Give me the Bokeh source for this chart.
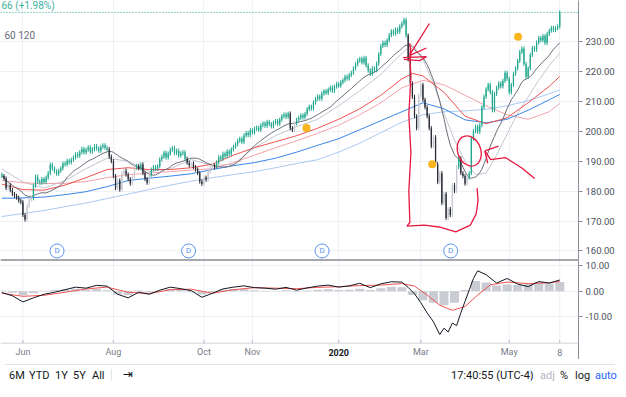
import pandas as pd
from bokeh.plotting import figure
from bokeh.models import (ColumnDataSource, Range1d, FixedTicker, PrintfTickFormatter,
                          Span, Label, Div)
from bokeh.layouts import column
from bokeh.core.properties import value
from bokeh.embed import file_html
from bokeh.resources import INLINE

# ---------------- data (trading-day index, 0 = 3 Jun 2019) ----------------
FIRST_IDX = -10
FIRST_OPEN = 185.5
closes = [
    185.0, 184.2, 181.0, 182.0, 180.3, 179.0, 178.4, 177.8, 176.8, 176.3,
    172.0, 170.5, 175.0, 177.2, 177.6, 181.8, 184.8, 183.2, 182.8, 184.0,
    183.0, 184.5, 186.0, 188.8, 187.5, 186.6, 185.8, 186.8, 187.6, 189.2,
    188.9, 190.1, 189.6, 190.5, 191.2, 192.3, 191.8, 193.0, 194.1, 192.9,
    193.8, 194.6, 193.2, 194.0, 195.0, 194.2, 193.5, 194.8, 195.3, 194.5,
    194.0, 191.5, 190.0, 185.0, 181.0, 183.5, 180.5, 186.0, 186.8, 185.5,
    184.0, 182.5, 184.8, 187.8, 188.4, 187.6, 188.9, 186.0, 184.0, 182.8,
    185.5, 187.2, 188.0, 187.5, 188.3, 190.6, 191.5, 192.8, 191.2, 192.5,
    193.8, 194.4, 192.7, 193.5, 191.9, 192.6, 193.0, 190.8, 189.5, 188.6,
    189.2, 188.0, 187.2, 186.0, 183.2, 182.4, 184.5, 183.8, 186.5, 187.8,
    188.5, 188.0, 189.6, 191.3, 190.8, 192.5, 191.7, 193.2, 192.4, 193.9,
    194.8, 195.6, 196.8, 197.5, 196.4, 198.6, 199.4, 198.7, 200.3, 199.6,
    200.8, 201.2, 200.5, 202.0, 202.6, 201.8, 203.1, 202.4, 201.6, 202.9,
    203.4, 202.5, 203.9, 205.0, 205.6, 204.8, 205.9, 201.0, 200.4, 202.6,
    203.8, 204.5, 205.3, 204.6, 205.8, 207.4, 208.2, 207.6, 209.6, 210.8,
    211.6, 210.9, 212.6, 213.4, 212.8, 213.9, 214.6, 213.5, 214.9, 215.8,
    215.2, 216.4, 217.0, 218.2, 217.6, 218.8, 219.5, 221.0, 222.4, 223.6,
    224.2, 223.0, 224.5, 222.0, 220.3, 219.2, 221.0, 220.4, 222.6, 225.8,
    228.5, 229.6, 228.8, 230.4, 232.1, 233.4, 232.6, 234.0, 233.2, 235.0,
    236.0, 237.2, 232.0, 224.0, 216.0, 211.5, 205.0, 201.0, 212.0, 215.5,
    210.5, 208.0, 205.0, 201.0, 195.0, 198.0, 189.0, 183.0, 186.0, 176.0,
    179.0, 171.0, 174.0, 172.0, 182.0, 180.0, 188.0, 191.0, 186.0, 185.0,
    182.5, 184.5, 186.0, 197.5, 200.0, 201.5, 199.8, 202.0, 208.0, 211.5,
    214.0, 215.5, 213.0, 207.0, 212.5, 214.5, 216.0, 215.0, 216.8, 219.5,
    217.5, 213.0, 215.5, 219.2, 221.0, 223.5, 226.5, 227.6, 222.5, 218.2,
    221.0, 225.5, 227.8, 227.2, 229.6, 231.2, 230.4, 231.8, 229.5, 232.5,
    233.6, 234.5, 233.8, 234.4, 235.0, 239.69,
]
LAST_PRICE = 239.69
header_change = "66 (+1.98%)"
header_ma = "60 120"

tick_idx = [0, 43, 86, 109, 150, 189, 231, 255]
tick_labels = ["Jun", "Aug", "Oct", "Nov", "2020", "Mar", "May", "8"]
tick_styles = ["normal", "normal", "normal", "normal", "bold", "normal", "normal", "normal"]
tick_colors = ["#787b86", "#787b86", "#787b86", "#787b86", "#131722", "#787b86", "#787b86", "#787b86"]
price_ticks = [160, 170, 180, 190, 200, 210, 220, 230]
osc_ticks = [-10, 0, 10]

ma_nodes = [-10, 0, 10, 20, 30, 40, 50, 60, 70, 80, 90, 100, 110, 120, 130,
            140, 150, 160, 170, 180, 190, 200, 210, 220, 230, 240, 250, 255]
red_x = [-10, 0, 10, 20, 30, 40, 50, 60, 70, 80, 90, 100, 110, 120, 130, 140,
         150, 160, 170, 180, 185, 190, 200, 210, 220, 230, 240, 250, 255]
red_y = [182.3, 180.5, 180.3, 182.0, 184.5, 187.2, 187.8, 187.2, 187.2, 187.8,
         189.0, 192.0, 194.5, 196.5, 198.5, 201.0, 204.0, 207.5, 212.0, 217.5,
         219.3, 218.5, 213.0, 205.0, 202.5, 204.5, 209.5, 215.0, 218.3]
pink_y = [183.5, 182.8, 182.5, 182.6, 183.2, 184.5, 185.5, 186.0, 186.5, 187.0,
          187.5, 189.5, 192.0, 194.5, 196.8, 199.3, 202.0, 205.5, 209.5, 214.5,
          217.0, 215.5, 212.0, 208.5, 205.5, 204.0, 206.5, 209.3]
blue_y = [177.6, 177.7, 178.0, 178.8, 179.8, 181.5, 183.5, 184.3, 185.0, 185.8,
          187.2, 188.5, 189.5, 191.0, 193.0, 195.3, 197.5, 200.5, 203.5, 206.5,
          209.5, 207.5, 203.8, 202.8, 204.0, 207.0, 210.5, 212.3]
lblue_y = [171.5, 172.5, 173.5, 174.8, 176.0, 177.5, 179.0, 180.5, 182.0, 183.3,
           184.5, 185.5, 186.5, 187.8, 189.2, 190.5, 193.0, 196.0, 199.5, 203.0,
           205.5, 206.5, 206.8, 207.3, 208.5, 210.2, 212.5, 213.8]
lgray_x = [-10, 0, 10, 20, 30, 40, 50, 60, 70, 80, 90, 100, 110, 120, 130, 140, 150,
           160, 170, 180, 185, 190, 195, 200, 205, 210, 215, 220, 225, 230, 235,
           240, 245, 250, 255]
lgray_y = [187.4, 183.0, 181.0, 183.5, 187.5, 191.0, 190.0, 186.5, 187.5, 190.5,
           188.5, 189.0, 194.5, 198.5, 201.5, 204.0, 208.5, 213.5, 219.0, 226.0,
           229.0, 224.0, 216.0, 206.0, 197.0, 190.0, 185.5, 186.0, 192.0, 199.0,
           206.0, 211.5, 217.0, 222.0, 226.0]

macd_x = [-10, -5, 0, 5, 10, 15, 20, 25, 30, 35, 40, 45, 50, 55, 60, 65, 70, 75,
          80, 85, 90, 95, 100, 105, 110, 115, 120, 125, 130, 135, 140, 145, 150,
          155, 160, 165, 170, 175, 180, 183, 186, 189, 192, 195, 198, 200, 202,
          204, 206, 208, 210, 212, 214, 216, 220, 225, 230, 235, 240, 245, 250, 255]
macd_y = [-0.5, -1.8, -4.2, -2.6, -1.2, -0.4, 0.6, 1.6, 1.2, 2.3, 2.0, -1.2, -2.6,
          -0.4, -1.2, 0.4, 1.6, 1.0, 0.2, -2.4, -0.8, 0.9, 1.6, 2.1, 1.4, 1.2, 0.8,
          1.5, 0.4, 1.3, 2.0, 2.4, 1.6, 2.1, 3.1, 1.4, 2.9, 3.7, 3.6, 1.5, -1.0,
          -4.5, -8.5, -12.0, -17.0, -14.5, -16.0, -12.5, -13.5, -8.5, -4.0, 0.5,
          5.0, 8.0, 6.5, 3.2, 5.0, 2.8, 1.8, 3.8, 3.2, 4.4]
sig_x = [-10, 0, 10, 20, 30, 40, 50, 60, 70, 80, 90, 100, 110, 120, 130, 140, 150,
         160, 170, 180, 186, 192, 198, 204, 210, 216, 222, 230, 240, 250, 255]
sig_y = [-0.8, -2.0, -1.6, -0.4, 0.9, 1.6, -0.4, -0.9, 0.6, 0.8, -0.8, 0.6, 1.4,
         1.2, 1.0, 1.5, 1.8, 2.2, 2.4, 3.0, 2.0, -1.5, -5.5, -7.5, -6.0, -1.5, 2.5,
         3.6, 3.0, 3.3, 3.9]
hist_x = list(range(-10, 256, 5))
hist_y = [0.3, -0.6, -1.6, -0.8, 0.2, 0.5, 0.8, 1.0, 0.6, 0.9,
          0.4, -1.3, -1.6, 0.3, -0.4, 0.2, 0.9, 0.5, -0.4, -1.3,
          -0.3, 0.6, 0.9, 0.9, 0.4, 0.2, 0.1, 0.4, -0.2, 0.3,
          0.6, 0.8, 0.5, 0.6, 1.0, 0.5, 1.2, 1.8, 1.6, -1.5,
          -3.5, -4.5, -5.5, -4.5, 0.5, 4.0, 3.4, 2.2, 2.6, 2.4,
          2.8, 3.4, 3.0, 3.6]

div_idx = [16.2, 78.7, 142.1, 203.2]          # dividend markers
div_price = [160.0, 160.0, 160.0, 160.0]
dot_idx = [134.7, 194.4, 235.2]                # orange markers
dot_price = [201.05, 188.96, 231.6]

# hand drawn annotations (index, price)
enclose_x = [184.3, 183.8, 184.3, 183.3, 184.3, 183.3, 183.8, 182.4, 190.7, 197.7, 205.6, 212.5, 215.3, 216.2, 215.7]
enclose_y = [227.8, 225.5, 218.2, 205.5, 192.8, 180.0, 169.5, 168.3, 168.6, 168.0, 166.4, 168.6, 172.4, 176.9, 181.0]
arrow1_x = [193.1, 184.3]
arrow1_y = [236.0, 226.2]
head1a_x = [183.8, 184.3]
head1a_y = [229.4, 224.6]
head1b_x = [184.3, 191.7]
head1b_y = [225.5, 227.8]
scrib_x = [180.6, 191.7, 188.4, 181.0]
scrib_y = [224.6, 224.9, 223.6, 224.0]
loop_x, loop_y = 212.0, 193.4
arrow2_x = [219.4, 222.2, 229.2, 237.0, 243.1]
arrow2_y = [193.4, 190.5, 191.2, 187.7, 184.2]
head2a_x = [219.4, 225.9]
head2a_y = [193.4, 195.0]
head2b_x = [219.4, 220.8]
head2b_y = [193.4, 189.3]

range_labels = ["6M", "YTD", "1Y", "5Y", "All"]

# ---------------- styling ----------------
GREEN = "#22a88f"
BLACK = "#2a2e39"
LGRAY_C = "#c5c8d0"
GRID = "#eef0f5"
RED_PEN = "#e8173f"
FONT = "Roboto"

idx = list(range(FIRST_IDX, FIRST_IDX + len(closes)))
opens = [FIRST_OPEN] + closes[:-1]
df = pd.DataFrame({"i": idx, "c": closes, "o": opens})
df["top"] = df[["o", "c"]].max(axis=1)
df["bot"] = df[["o", "c"]].min(axis=1)
df["bot_draw"] = df[["bot"]].assign(t=df["top"] - 0.35).min(axis=1)
df["hi"] = df["top"] + 0.7
df["lo"] = df["bot"] - 0.7
df["ma20"] = df["c"].rolling(20, min_periods=1).mean()
cols = []
for c, o, m in zip(df["c"], df["o"], df["ma20"]):
    if c >= m:
        cols.append(GREEN)
    elif c < o:
        cols.append(BLACK)
    else:
        cols.append(LGRAY_C)
df["color"] = cols
src = ColumnDataSource(df)

X0, X1 = -10.65, 263.9
FW = 578

# ---------------- price panel ----------------
p = figure(frame_width=FW, frame_height=259, x_range=Range1d(X0, X1),
           y_range=Range1d(157.14, 243.68), y_axis_location="right",
           x_axis_location=None, output_backend="svg", toolbar_location=None,
           min_border_left=0, min_border_top=0, min_border_bottom=0, min_border_right=0)
p.outline_line_color = None
p.xgrid.ticker = FixedTicker(ticks=tick_idx)
p.ygrid.ticker = FixedTicker(ticks=price_ticks)
p.xgrid.grid_line_color = GRID
p.ygrid.grid_line_color = GRID
ax = p.yaxis[0]
ax.ticker = FixedTicker(ticks=price_ticks)
ax.formatter = PrintfTickFormatter(format="%.2f")
ax.major_tick_in = 0
ax.major_tick_out = 4
ax.minor_tick_line_color = None
ax.axis_line_color = "#8a8e99"
ax.major_tick_line_color = "#8a8e99"
ax.major_label_text_font = FONT
ax.major_label_text_font_size = "9.5px"
ax.major_label_text_color = "#4c525e"
ax.major_label_standoff = 3

p.add_layout(Span(location=LAST_PRICE, dimension="width", line_color=GREEN,
                  line_dash="1 2", line_width=1))

# moving averages
p.line(lgray_x, lgray_y, line_color="#c3c6ce", line_width=1)
p.line(ma_nodes, lblue_y, line_color="#a9c9f2", line_width=1)
p.line(ma_nodes, pink_y, line_color="#f4a3aa", line_width=1)
p.line(ma_nodes, blue_y, line_color="#3a86e8", line_width=1)
p.line(red_x, red_y, line_color="#ef5350", line_width=1)
p.line("i", "ma20", source=src, line_color="#6a6d78", line_width=1)

# candles
p.segment(x0="i", y0="lo", x1="i", y1="hi", source=src, line_color="color", line_width=1)
p.vbar(x="i", top="top", bottom="bot_draw", width=0.6, source=src,
       fill_color="color", line_color=None)

# markers
p.scatter(dot_idx, dot_price, size=8, color="#f9b51e", line_color=None)
p.scatter(div_idx, div_price, size=14, fill_color="white", line_color="#5a93f0", line_width=1)
p.text(div_idx, div_price, text=["D"] * len(div_idx), text_color="#5a93f0",
       text_font=value(FONT), text_font_size="8px", text_align="center", text_baseline="middle")

# hand drawn annotations
for xs, ys in [(enclose_x, enclose_y), (arrow1_x, arrow1_y), (head1a_x, head1a_y),
               (head1b_x, head1b_y), (scrib_x, scrib_y), (arrow2_x, arrow2_y),
               (head2a_x, head2a_y), (head2b_x, head2b_y)]:
    p.line(xs, ys, line_color=RED_PEN, line_width=1.3)
p.ellipse(x=[loop_x], y=[loop_y], width=23, height=31, width_units="screen",
          height_units="screen", angle=0.35, fill_alpha=0, line_color=RED_PEN, line_width=1.3)

# header texts
p.add_layout(Label(x=1, y=242.1, x_units="screen", text=header_change,
                   text_color="#3fb39e", text_font=FONT, text_font_size="10px",
                   text_baseline="middle"))
p.add_layout(Label(x=4, y=231.9, x_units="screen", text=header_ma,
                   text_color="#6a6d78", text_font=FONT, text_font_size="10px",
                   text_baseline="middle"))
p.add_layout(Label(x=FW + 2, y=LAST_PRICE, x_units="screen", text="239.69",
                   text_color="white", background_fill_color=GREEN,
                   text_font=FONT, text_font_size="9.5px", text_baseline="middle",
                   padding=2))

# ---------------- oscillator panel + date strip ----------------
q = figure(frame_width=FW, frame_height=100, x_range=p.x_range,
           y_range=Range1d(-26.8, 12.45), y_axis_location="right",
           x_axis_location=None, output_backend="svg", toolbar_location=None,
           min_border_left=0, min_border_top=0, min_border_bottom=0, min_border_right=0)
q.outline_line_color = None
q.xgrid.visible = False
q.ygrid.ticker = FixedTicker(ticks=osc_ticks)
q.ygrid.grid_line_color = GRID
bx = q.yaxis[0]
bx.ticker = FixedTicker(ticks=osc_ticks)
bx.formatter = PrintfTickFormatter(format="%.2f")
bx.major_tick_in = 0
bx.major_tick_out = 4
bx.minor_tick_line_color = None
bx.axis_line_color = "#8a8e99"
bx.major_tick_line_color = "#8a8e99"
bx.major_label_text_font = FONT
bx.major_label_text_font_size = "9.5px"
bx.major_label_text_color = "#4c525e"
bx.major_label_standoff = 3

AXIS_Y = -20.4
q.segment(x0=tick_idx, y0=[AXIS_Y] * len(tick_idx), x1=tick_idx, y1=[12.45] * len(tick_idx),
          line_color=GRID, line_width=1)
q.vbar(x=hist_x, top=hist_y, bottom=0, width=4.3, fill_color="#b8bbc4",
       fill_alpha=0.75, line_color=None)
q.line(sig_x, sig_y, line_color="#ef5350", line_width=1)
q.line(macd_x, macd_y, line_color="#131722", line_width=1)

q.add_layout(Span(location=12.45, dimension="width", line_color="#50535e", line_width=2))
q.add_layout(Span(location=AXIS_Y, dimension="width", line_color="#d1d4dc", line_width=1))
q.segment(x0=tick_idx, y0=[AXIS_Y] * len(tick_idx), x1=tick_idx, y1=[AXIS_Y + 1.2] * len(tick_idx),
          line_color="#b2b5be", line_width=1)
tsrc = ColumnDataSource(dict(x=tick_idx, y=[-23.9] * len(tick_idx), t=tick_labels,
                             s=tick_styles, c=tick_colors))
q.text(x="x", y="y", text="t", source=tsrc, text_font=value(FONT), text_font_size="9px",
       text_font_style="s", text_color="c", text_align="center", text_baseline="middle")
q.add_layout(Label(x=FW + 15, y=-23.9, x_units="screen", text="\u2699", text_color="#2a2e39",
                   text_font="DejaVu Sans", text_font_size="12px", text_align="center",
                   text_baseline="middle"))

# ---------------- bottom toolbar ----------------
left_pos = [4, 24, 50, 68, 87]
spans = ""
for lab, x in zip(range_labels, left_pos):
    spans += f'<span style="position:absolute;left:{x}px;top:3px">{lab}</span>'
spans += '<span style="position:absolute;left:106px;top:4px;width:1px;height:12px;background:#e0e3eb"></span>'
spans += '<span style="position:absolute;left:118px;top:1px;font-family:\'DejaVu Sans\';font-size:12px">\u21e5</span>'
spans += '<span style="position:absolute;left:446px;top:3px">17:40:55 (UTC-4)</span>'
spans += '<span style="position:absolute;left:525px;top:4px;width:1px;height:12px;background:#e0e3eb"></span>'
spans += '<span style="position:absolute;left:535px;top:3px;color:#b2b5be">adj</span>'
spans += '<span style="position:absolute;left:555px;top:3px">%</span>'
spans += '<span style="position:absolute;left:570px;top:3px">log</span>'
spans += '<span style="position:absolute;left:590px;top:3px;color:#2962ff">auto</span>'
html = ('<div style="position:relative;width:610px;height:20px;border-top:1px solid #e0e3eb;'
        'font-family:Roboto,sans-serif;font-size:11px;color:#131722;">' + spans + '</div>')
bar = Div(text=html, width=610, height=20)

layout = column(p, q, bar, spacing=0)
open("out.html", "w").write(file_html(layout, INLINE))
